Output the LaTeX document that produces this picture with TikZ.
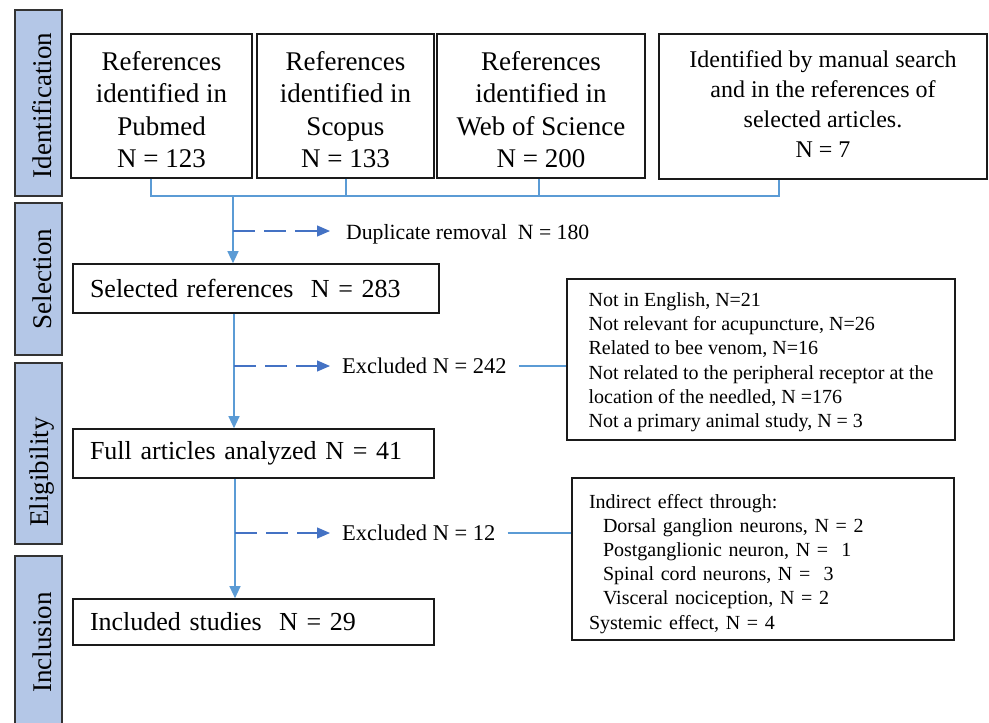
\documentclass[tikz,border=0pt]{standalone}
\usepackage{fontspec}
\setmainfont{Liberation Serif}
\usetikzlibrary{arrows.meta}
\definecolor{barfill}{HTML}{B4C7E7}
\definecolor{conncol}{HTML}{5B9BD5}
\definecolor{dashcol}{HTML}{4472C4}
\definecolor{boxline}{HTML}{1A1A1A}
\begin{document}
\begin{tikzpicture}[x=1pt,y=-1pt,
  box/.style={draw=boxline, line width=1.6pt, inner sep=0pt, align=center},
  big/.style={font=\fontsize{27}{32.3}\selectfont},
  lbox/.style={box, font=\fontsize{26}{31}\selectfont, align=left, inner xsep=17pt, inner ysep=0pt},
  sbox/.style={box, font=\fontsize{20}{24.2}\selectfont, align=left},
  lbl/.style={anchor=west, inner xsep=12pt, inner ysep=0pt, font=\fontsize{22.5}{26}\selectfont},
  stagebar/.style={fill=barfill, draw=black!80, line width=1.2pt},
  stagetxt/.style={rotate=90, anchor=base, inner sep=0pt, font=\fontsize{27}{32}\selectfont},
  conn/.style={draw=conncol, line width=1.2pt},
  arr/.style={conn, -{Triangle[length=12pt,width=11pt]}},
  darr/.style={draw=dashcol, line width=1.2pt, dash pattern=on 22pt off 9pt, -{Triangle[length=13pt,width=11pt]}}
]
\useasboundingbox (0,0) rectangle (989,723);

% stage bars
\path[stagebar] (15,10) rectangle (62,196);
\path[stagebar] (15,203) rectangle (62,355);
\path[stagebar] (15,363) rectangle (62,544);
\path[stagebar] (15,556) rectangle (62,740);
\node[stagetxt] (st1) at (51.5,105.5) {Identification};
\node[stagetxt] (st2) at (51.5,279) {Selection};
\node[stagetxt] (st3) at (48.5,472) {Eligibility};
\node[stagetxt] (st4) at (51.5,642.5) {Inclusion};

% identification boxes
\node[box,big,minimum width=181pt,minimum height=144pt] (pub) at (161.5,106) {\rule{0pt}{26.5pt}References\\identified in\\Pubmed\\N = 123};
\node[box,big,minimum width=177pt,minimum height=144pt] (sco) at (345.5,106) {\rule{0pt}{26.5pt}References\\identified in\\Scopus\\N = 133};
\node[box,big,minimum width=208pt,minimum height=144pt] (wos) at (541,106) {\rule{0pt}{26.5pt}References\\identified in\\Web of Science\\N = 200};
\node[box,font=\fontsize{24}{30}\selectfont,minimum width=328pt,minimum height=145pt] (man) at (823,106.5) {Identified by manual search\\and in the references of\\selected articles.\\N = 7\rule[-4pt]{0pt}{4pt}};

% flow boxes
\node[lbox,text width=332pt,minimum height=49pt] (sel) at (256,288.5) {Selected references\ \ N = 283};
\node[lbox,text width=327pt,minimum height=49pt] (full) at (253.5,453.5) {Full articles analyzed N = 41};
\node[lbox,text width=327pt,minimum height=46pt] (inc) at (253.5,622) {Included studies\ \ N = 29};

% exclusion boxes
\node[sbox,minimum width=388pt,minimum height=161pt] (rb1) at (761,359.5) {\rule{0pt}{19.5pt}Not in English, N=21\\Not relevant for acupuncture, N=26\\Related to bee venom, N=16\\Not related to the peripheral receptor at the\\location of the needled, N =176\\Not a primary animal study, N = 3};
\node[sbox,text width=348pt,inner xsep=17pt,minimum height=162pt] (rb2) at (763,559) {\rule{0pt}{23.5pt}Indirect effect through:\\\hspace*{14pt}Dorsal ganglion neurons, N = 2\\\hspace*{14pt}Postganglionic neuron, N =\ \ 1\\\hspace*{14pt}Spinal cord neurons, N =\ \ 3\\\hspace*{14pt}Visceral nociception, N = 2\\Systemic effect, N = 4};

% labels
\node[lbl,inner xsep=16pt,font=\fontsize{21.7}{26}\selectfont] (dup) at (330,234) {Duplicate removal\ \ N = 180};
\node[lbl] (ex1) at (330,366) {Excluded N = 242};
\node[lbl] (ex2) at (330,533) {Excluded N = 12};

% connectors
\coordinate (d1) at (151,196);
\coordinate (d2) at (346,196);
\coordinate (d3) at (539,196);
\coordinate (d4) at (779,196);
\coordinate (j0) at (233,196);
\coordinate (j1) at (233,231);
\coordinate (k1) at (234,366);
\coordinate (k2) at (235,533);

\draw[conn] (pub.south -| d1) -- (d1) -- (d4) -- (man.south -| d4);
\draw[conn] (sco.south -| d2) -- (d2);
\draw[conn] (wos.south -| d3) -- (d3);
\draw[arr] (j0) -- (sel.north -| j0);
\draw[arr] (sel.south -| k1) -- (full.north -| k1);
\draw[arr] (full.south -| k2) -- (inc.north -| k2);

\draw[darr] (j1) -- (j1 -| dup.west);
\draw[darr] (k1) -- (ex1.west);
\draw[darr] (k2) -- (ex2.west);

\draw[conn] (ex1.east) -- (ex1.east -| rb1.west);
\draw[conn] (ex2.east) -- (ex2.east -| rb2.west);
\end{tikzpicture}
\end{document}
